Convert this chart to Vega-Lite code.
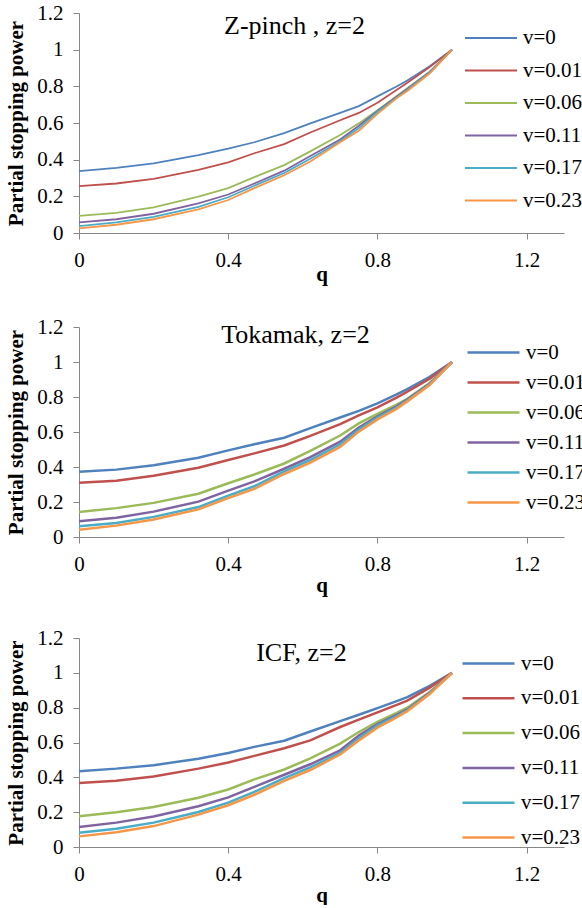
{
  "$schema": "https://vega.github.io/schema/vega-lite/v6.json",
  "padding": {"left": 5, "top": 2, "right": 0, "bottom": 0},
  "background": "white",
  "spacing": 32,
  "config": {
    "view": {"stroke": null},
    "font": "Liberation Serif",
    "axis": {
      "grid": false,
      "domainColor": "#868686",
      "tickColor": "#868686",
      "tickSize": 6,
      "labelFont": "Liberation Serif",
      "labelFontSize": 21,
      "labelColor": "black",
      "labelPadding": 10,
      "labelOverlap": false,
      "labelFlush": false,
      "titleFont": "Liberation Serif",
      "titleFontSize": 21,
      "titleFontWeight": "bold",
      "titleColor": "black"
    },
    "legend": {
      "labelFont": "Liberation Serif",
      "labelFontSize": 21,
      "labelColor": "black",
      "title": null
    },
    "title": {"font": "Liberation Serif", "fontSize": 26, "fontWeight": "normal", "color": "black", "anchor": "middle"}
  },
  "datasets": {
    "d": [
      {"panel":"Z","v":"v=0","q":0,"p":0.338},{"panel":"Z","v":"v=0","q":0.1,"p":0.355},{"panel":"Z","v":"v=0","q":0.2,"p":0.38},{"panel":"Z","v":"v=0","q":0.32,"p":0.425},{"panel":"Z","v":"v=0","q":0.4,"p":0.46},{"panel":"Z","v":"v=0","q":0.47,"p":0.495},{"panel":"Z","v":"v=0","q":0.55,"p":0.545},{"panel":"Z","v":"v=0","q":0.62,"p":0.598},{"panel":"Z","v":"v=0","q":0.7,"p":0.655},{"panel":"Z","v":"v=0","q":0.75,"p":0.692},{"panel":"Z","v":"v=0","q":0.8,"p":0.745},{"panel":"Z","v":"v=0","q":0.85,"p":0.798},{"panel":"Z","v":"v=0","q":0.88,"p":0.832},{"panel":"Z","v":"v=0","q":0.94,"p":0.91},{"panel":"Z","v":"v=0","q":1,"p":1},
      {"panel":"Z","v":"v=0.01","q":0,"p":0.256},{"panel":"Z","v":"v=0.01","q":0.1,"p":0.27},{"panel":"Z","v":"v=0.01","q":0.2,"p":0.295},{"panel":"Z","v":"v=0.01","q":0.32,"p":0.344},{"panel":"Z","v":"v=0.01","q":0.4,"p":0.385},{"panel":"Z","v":"v=0.01","q":0.47,"p":0.435},{"panel":"Z","v":"v=0.01","q":0.55,"p":0.485},{"panel":"Z","v":"v=0.01","q":0.62,"p":0.548},{"panel":"Z","v":"v=0.01","q":0.7,"p":0.615},{"panel":"Z","v":"v=0.01","q":0.75,"p":0.655},{"panel":"Z","v":"v=0.01","q":0.8,"p":0.71},{"panel":"Z","v":"v=0.01","q":0.85,"p":0.778},{"panel":"Z","v":"v=0.01","q":0.88,"p":0.82},{"panel":"Z","v":"v=0.01","q":0.94,"p":0.905},{"panel":"Z","v":"v=0.01","q":1,"p":1},
      {"panel":"Z","v":"v=0.06","q":0,"p":0.093},{"panel":"Z","v":"v=0.06","q":0.1,"p":0.11},{"panel":"Z","v":"v=0.06","q":0.2,"p":0.14},{"panel":"Z","v":"v=0.06","q":0.32,"p":0.198},{"panel":"Z","v":"v=0.06","q":0.4,"p":0.245},{"panel":"Z","v":"v=0.06","q":0.47,"p":0.305},{"panel":"Z","v":"v=0.06","q":0.55,"p":0.37},{"panel":"Z","v":"v=0.06","q":0.62,"p":0.445},{"panel":"Z","v":"v=0.06","q":0.7,"p":0.535},{"panel":"Z","v":"v=0.06","q":0.75,"p":0.598},{"panel":"Z","v":"v=0.06","q":0.8,"p":0.67},{"panel":"Z","v":"v=0.06","q":0.85,"p":0.745},{"panel":"Z","v":"v=0.06","q":0.88,"p":0.79},{"panel":"Z","v":"v=0.06","q":0.94,"p":0.88},{"panel":"Z","v":"v=0.06","q":1,"p":1},
      {"panel":"Z","v":"v=0.11","q":0,"p":0.058},{"panel":"Z","v":"v=0.11","q":0.1,"p":0.075},{"panel":"Z","v":"v=0.11","q":0.2,"p":0.105},{"panel":"Z","v":"v=0.11","q":0.32,"p":0.162},{"panel":"Z","v":"v=0.11","q":0.4,"p":0.21},{"panel":"Z","v":"v=0.11","q":0.47,"p":0.27},{"panel":"Z","v":"v=0.11","q":0.55,"p":0.34},{"panel":"Z","v":"v=0.11","q":0.62,"p":0.42},{"panel":"Z","v":"v=0.11","q":0.7,"p":0.51},{"panel":"Z","v":"v=0.11","q":0.75,"p":0.585},{"panel":"Z","v":"v=0.11","q":0.8,"p":0.665},{"panel":"Z","v":"v=0.11","q":0.85,"p":0.74},{"panel":"Z","v":"v=0.11","q":0.88,"p":0.785},{"panel":"Z","v":"v=0.11","q":0.94,"p":0.878},{"panel":"Z","v":"v=0.11","q":1,"p":1},
      {"panel":"Z","v":"v=0.17","q":0,"p":0.038},{"panel":"Z","v":"v=0.17","q":0.1,"p":0.058},{"panel":"Z","v":"v=0.17","q":0.2,"p":0.088},{"panel":"Z","v":"v=0.17","q":0.32,"p":0.143},{"panel":"Z","v":"v=0.17","q":0.4,"p":0.195},{"panel":"Z","v":"v=0.17","q":0.47,"p":0.258},{"panel":"Z","v":"v=0.17","q":0.55,"p":0.327},{"panel":"Z","v":"v=0.17","q":0.62,"p":0.405},{"panel":"Z","v":"v=0.17","q":0.7,"p":0.5},{"panel":"Z","v":"v=0.17","q":0.75,"p":0.572},{"panel":"Z","v":"v=0.17","q":0.8,"p":0.66},{"panel":"Z","v":"v=0.17","q":0.85,"p":0.735},{"panel":"Z","v":"v=0.17","q":0.88,"p":0.78},{"panel":"Z","v":"v=0.17","q":0.94,"p":0.875},{"panel":"Z","v":"v=0.17","q":1,"p":1},
      {"panel":"Z","v":"v=0.23","q":0,"p":0.025},{"panel":"Z","v":"v=0.23","q":0.1,"p":0.045},{"panel":"Z","v":"v=0.23","q":0.2,"p":0.075},{"panel":"Z","v":"v=0.23","q":0.32,"p":0.129},{"panel":"Z","v":"v=0.23","q":0.4,"p":0.18},{"panel":"Z","v":"v=0.23","q":0.47,"p":0.245},{"panel":"Z","v":"v=0.23","q":0.55,"p":0.315},{"panel":"Z","v":"v=0.23","q":0.62,"p":0.39},{"panel":"Z","v":"v=0.23","q":0.7,"p":0.495},{"panel":"Z","v":"v=0.23","q":0.75,"p":0.558},{"panel":"Z","v":"v=0.23","q":0.8,"p":0.65},{"panel":"Z","v":"v=0.23","q":0.85,"p":0.733},{"panel":"Z","v":"v=0.23","q":0.88,"p":0.775},{"panel":"Z","v":"v=0.23","q":0.94,"p":0.87},{"panel":"Z","v":"v=0.23","q":1,"p":1},
      {"panel":"T","v":"v=0","q":0,"p":0.373},{"panel":"T","v":"v=0","q":0.1,"p":0.385},{"panel":"T","v":"v=0","q":0.2,"p":0.41},{"panel":"T","v":"v=0","q":0.32,"p":0.453},{"panel":"T","v":"v=0","q":0.4,"p":0.495},{"panel":"T","v":"v=0","q":0.47,"p":0.53},{"panel":"T","v":"v=0","q":0.55,"p":0.567},{"panel":"T","v":"v=0","q":0.62,"p":0.622},{"panel":"T","v":"v=0","q":0.7,"p":0.683},{"panel":"T","v":"v=0","q":0.75,"p":0.721},{"panel":"T","v":"v=0","q":0.8,"p":0.763},{"panel":"T","v":"v=0","q":0.85,"p":0.813},{"panel":"T","v":"v=0","q":0.88,"p":0.845},{"panel":"T","v":"v=0","q":0.94,"p":0.915},{"panel":"T","v":"v=0","q":1,"p":1},
      {"panel":"T","v":"v=0.01","q":0,"p":0.31},{"panel":"T","v":"v=0.01","q":0.1,"p":0.322},{"panel":"T","v":"v=0.01","q":0.2,"p":0.35},{"panel":"T","v":"v=0.01","q":0.32,"p":0.396},{"panel":"T","v":"v=0.01","q":0.4,"p":0.44},{"panel":"T","v":"v=0.01","q":0.47,"p":0.478},{"panel":"T","v":"v=0.01","q":0.55,"p":0.523},{"panel":"T","v":"v=0.01","q":0.62,"p":0.578},{"panel":"T","v":"v=0.01","q":0.7,"p":0.645},{"panel":"T","v":"v=0.01","q":0.75,"p":0.695},{"panel":"T","v":"v=0.01","q":0.8,"p":0.741},{"panel":"T","v":"v=0.01","q":0.85,"p":0.795},{"panel":"T","v":"v=0.01","q":0.88,"p":0.83},{"panel":"T","v":"v=0.01","q":0.94,"p":0.905},{"panel":"T","v":"v=0.01","q":1,"p":1},
      {"panel":"T","v":"v=0.06","q":0,"p":0.143},{"panel":"T","v":"v=0.06","q":0.1,"p":0.165},{"panel":"T","v":"v=0.06","q":0.2,"p":0.195},{"panel":"T","v":"v=0.06","q":0.32,"p":0.247},{"panel":"T","v":"v=0.06","q":0.4,"p":0.307},{"panel":"T","v":"v=0.06","q":0.47,"p":0.357},{"panel":"T","v":"v=0.06","q":0.55,"p":0.42},{"panel":"T","v":"v=0.06","q":0.62,"p":0.492},{"panel":"T","v":"v=0.06","q":0.7,"p":0.58},{"panel":"T","v":"v=0.06","q":0.75,"p":0.649},{"panel":"T","v":"v=0.06","q":0.8,"p":0.703},{"panel":"T","v":"v=0.06","q":0.85,"p":0.755},{"panel":"T","v":"v=0.06","q":0.88,"p":0.79},{"panel":"T","v":"v=0.06","q":0.94,"p":0.88},{"panel":"T","v":"v=0.06","q":1,"p":1},
      {"panel":"T","v":"v=0.11","q":0,"p":0.09},{"panel":"T","v":"v=0.11","q":0.1,"p":0.11},{"panel":"T","v":"v=0.11","q":0.2,"p":0.145},{"panel":"T","v":"v=0.11","q":0.32,"p":0.202},{"panel":"T","v":"v=0.11","q":0.4,"p":0.265},{"panel":"T","v":"v=0.11","q":0.47,"p":0.318},{"panel":"T","v":"v=0.11","q":0.55,"p":0.39},{"panel":"T","v":"v=0.11","q":0.62,"p":0.457},{"panel":"T","v":"v=0.11","q":0.7,"p":0.545},{"panel":"T","v":"v=0.11","q":0.75,"p":0.626},{"panel":"T","v":"v=0.11","q":0.8,"p":0.69},{"panel":"T","v":"v=0.11","q":0.85,"p":0.745},{"panel":"T","v":"v=0.11","q":0.88,"p":0.785},{"panel":"T","v":"v=0.11","q":0.94,"p":0.875},{"panel":"T","v":"v=0.11","q":1,"p":1},
      {"panel":"T","v":"v=0.17","q":0,"p":0.061},{"panel":"T","v":"v=0.17","q":0.1,"p":0.08},{"panel":"T","v":"v=0.17","q":0.2,"p":0.115},{"panel":"T","v":"v=0.17","q":0.32,"p":0.171},{"panel":"T","v":"v=0.17","q":0.4,"p":0.236},{"panel":"T","v":"v=0.17","q":0.47,"p":0.29},{"panel":"T","v":"v=0.17","q":0.55,"p":0.375},{"panel":"T","v":"v=0.17","q":0.62,"p":0.44},{"panel":"T","v":"v=0.17","q":0.7,"p":0.53},{"panel":"T","v":"v=0.17","q":0.75,"p":0.614},{"panel":"T","v":"v=0.17","q":0.8,"p":0.683},{"panel":"T","v":"v=0.17","q":0.85,"p":0.738},{"panel":"T","v":"v=0.17","q":0.88,"p":0.78},{"panel":"T","v":"v=0.17","q":0.94,"p":0.872},{"panel":"T","v":"v=0.17","q":1,"p":1},
      {"panel":"T","v":"v=0.23","q":0,"p":0.042},{"panel":"T","v":"v=0.23","q":0.1,"p":0.065},{"panel":"T","v":"v=0.23","q":0.2,"p":0.1},{"panel":"T","v":"v=0.23","q":0.32,"p":0.158},{"panel":"T","v":"v=0.23","q":0.4,"p":0.222},{"panel":"T","v":"v=0.23","q":0.47,"p":0.275},{"panel":"T","v":"v=0.23","q":0.55,"p":0.36},{"panel":"T","v":"v=0.23","q":0.62,"p":0.425},{"panel":"T","v":"v=0.23","q":0.7,"p":0.515},{"panel":"T","v":"v=0.23","q":0.75,"p":0.602},{"panel":"T","v":"v=0.23","q":0.8,"p":0.672},{"panel":"T","v":"v=0.23","q":0.85,"p":0.731},{"panel":"T","v":"v=0.23","q":0.88,"p":0.775},{"panel":"T","v":"v=0.23","q":0.94,"p":0.868},{"panel":"T","v":"v=0.23","q":1,"p":1},
      {"panel":"I","v":"v=0","q":0,"p":0.435},{"panel":"I","v":"v=0","q":0.1,"p":0.45},{"panel":"I","v":"v=0","q":0.2,"p":0.47},{"panel":"I","v":"v=0","q":0.32,"p":0.507},{"panel":"I","v":"v=0","q":0.4,"p":0.54},{"panel":"I","v":"v=0","q":0.47,"p":0.575},{"panel":"I","v":"v=0","q":0.55,"p":0.61},{"panel":"I","v":"v=0","q":0.62,"p":0.663},{"panel":"I","v":"v=0","q":0.7,"p":0.723},{"panel":"I","v":"v=0","q":0.75,"p":0.759},{"panel":"I","v":"v=0","q":0.8,"p":0.797},{"panel":"I","v":"v=0","q":0.85,"p":0.836},{"panel":"I","v":"v=0","q":0.88,"p":0.86},{"panel":"I","v":"v=0","q":0.94,"p":0.925},{"panel":"I","v":"v=0","q":1,"p":1},
      {"panel":"I","v":"v=0.01","q":0,"p":0.367},{"panel":"I","v":"v=0.01","q":0.1,"p":0.38},{"panel":"I","v":"v=0.01","q":0.2,"p":0.405},{"panel":"I","v":"v=0.01","q":0.32,"p":0.45},{"panel":"I","v":"v=0.01","q":0.4,"p":0.485},{"panel":"I","v":"v=0.01","q":0.47,"p":0.523},{"panel":"I","v":"v=0.01","q":0.55,"p":0.567},{"panel":"I","v":"v=0.01","q":0.62,"p":0.612},{"panel":"I","v":"v=0.01","q":0.7,"p":0.689},{"panel":"I","v":"v=0.01","q":0.75,"p":0.731},{"panel":"I","v":"v=0.01","q":0.8,"p":0.773},{"panel":"I","v":"v=0.01","q":0.85,"p":0.815},{"panel":"I","v":"v=0.01","q":0.88,"p":0.84},{"panel":"I","v":"v=0.01","q":0.94,"p":0.915},{"panel":"I","v":"v=0.01","q":1,"p":1},
      {"panel":"I","v":"v=0.06","q":0,"p":0.176},{"panel":"I","v":"v=0.06","q":0.1,"p":0.2},{"panel":"I","v":"v=0.06","q":0.2,"p":0.23},{"panel":"I","v":"v=0.06","q":0.32,"p":0.283},{"panel":"I","v":"v=0.06","q":0.4,"p":0.33},{"panel":"I","v":"v=0.06","q":0.47,"p":0.388},{"panel":"I","v":"v=0.06","q":0.55,"p":0.445},{"panel":"I","v":"v=0.06","q":0.62,"p":0.509},{"panel":"I","v":"v=0.06","q":0.7,"p":0.594},{"panel":"I","v":"v=0.06","q":0.75,"p":0.66},{"panel":"I","v":"v=0.06","q":0.8,"p":0.719},{"panel":"I","v":"v=0.06","q":0.85,"p":0.768},{"panel":"I","v":"v=0.06","q":0.88,"p":0.8},{"panel":"I","v":"v=0.06","q":0.94,"p":0.89},{"panel":"I","v":"v=0.06","q":1,"p":1},
      {"panel":"I","v":"v=0.11","q":0,"p":0.115},{"panel":"I","v":"v=0.11","q":0.1,"p":0.14},{"panel":"I","v":"v=0.11","q":0.2,"p":0.175},{"panel":"I","v":"v=0.11","q":0.32,"p":0.234},{"panel":"I","v":"v=0.11","q":0.4,"p":0.285},{"panel":"I","v":"v=0.11","q":0.47,"p":0.345},{"panel":"I","v":"v=0.11","q":0.55,"p":0.415},{"panel":"I","v":"v=0.11","q":0.62,"p":0.475},{"panel":"I","v":"v=0.11","q":0.7,"p":0.555},{"panel":"I","v":"v=0.11","q":0.75,"p":0.64},{"panel":"I","v":"v=0.11","q":0.8,"p":0.705},{"panel":"I","v":"v=0.11","q":0.85,"p":0.757},{"panel":"I","v":"v=0.11","q":0.88,"p":0.79},{"panel":"I","v":"v=0.11","q":0.94,"p":0.885},{"panel":"I","v":"v=0.11","q":1,"p":1},
      {"panel":"I","v":"v=0.17","q":0,"p":0.082},{"panel":"I","v":"v=0.17","q":0.1,"p":0.105},{"panel":"I","v":"v=0.17","q":0.2,"p":0.14},{"panel":"I","v":"v=0.17","q":0.32,"p":0.201},{"panel":"I","v":"v=0.17","q":0.4,"p":0.255},{"panel":"I","v":"v=0.17","q":0.47,"p":0.316},{"panel":"I","v":"v=0.17","q":0.55,"p":0.395},{"panel":"I","v":"v=0.17","q":0.62,"p":0.457},{"panel":"I","v":"v=0.17","q":0.7,"p":0.54},{"panel":"I","v":"v=0.17","q":0.75,"p":0.625},{"panel":"I","v":"v=0.17","q":0.8,"p":0.698},{"panel":"I","v":"v=0.17","q":0.85,"p":0.75},{"panel":"I","v":"v=0.17","q":0.88,"p":0.785},{"panel":"I","v":"v=0.17","q":0.94,"p":0.882},{"panel":"I","v":"v=0.17","q":1,"p":1},
      {"panel":"I","v":"v=0.23","q":0,"p":0.061},{"panel":"I","v":"v=0.23","q":0.1,"p":0.085},{"panel":"I","v":"v=0.23","q":0.2,"p":0.12},{"panel":"I","v":"v=0.23","q":0.32,"p":0.186},{"panel":"I","v":"v=0.23","q":0.4,"p":0.24},{"panel":"I","v":"v=0.23","q":0.47,"p":0.3},{"panel":"I","v":"v=0.23","q":0.55,"p":0.38},{"panel":"I","v":"v=0.23","q":0.62,"p":0.442},{"panel":"I","v":"v=0.23","q":0.7,"p":0.531},{"panel":"I","v":"v=0.23","q":0.75,"p":0.612},{"panel":"I","v":"v=0.23","q":0.8,"p":0.685},{"panel":"I","v":"v=0.23","q":0.85,"p":0.742},{"panel":"I","v":"v=0.23","q":0.88,"p":0.78},{"panel":"I","v":"v=0.23","q":0.94,"p":0.878},{"panel":"I","v":"v=0.23","q":1,"p":1}
    ]
  },
  "resolve": {"legend": {"color": "independent"}, "scale": {"color": "independent"}},
  "vconcat": [
    {
      "data": {"name": "d"},
      "transform": [{"filter": "datum.panel == 'Z'"}],
      "title": {"text": "Z-pinch , z=2", "offset": -37, "dx": -27},
      "width": 485,
      "height": 220,
      "mark": {"type": "line", "strokeWidth": 1.8},
      "encoding": {
        "x": {"field": "q", "type": "quantitative", "scale": {"domain": [0, 1.3], "nice": false}, "axis": {"values": [0, 0.4, 0.8, 1.2], "labelExpr": "datum.value == 0 ? '0' : format(datum.value, '.1f')", "title": "q", "titlePadding": -7}},
        "y": {"field": "p", "type": "quantitative", "scale": {"domain": [0, 1.2], "nice": false}, "axis": {"values": [0, 0.2, 0.4, 0.6, 0.8, 1, 1.2], "labelExpr": "datum.value == 0 ? '0' : datum.value == 1 ? '1' : format(datum.value, '.1f')", "title": "Partial stopping power", "titlePadding": 10}},
        "color": {"field": "v", "type": "nominal",
          "scale": {"domain": ["v=0","v=0.01","v=0.06","v=0.11","v=0.17","v=0.23"], "range": ["#4F81BD","#C0504D","#9BBB59","#8064A2","#4BACC6","#F79646"]},
          "legend": {"orient": "none", "legendX": 385, "legendY": 11, "symbolType": "M-1,0H3", "symbolSize": 676, "labelOffset": 31, "symbolStrokeWidth": 1.8, "rowPadding": 8.5}}
      }
    },
    {
      "data": {"name": "d"},
      "transform": [{"filter": "datum.panel == 'T'"}],
      "title": {"text": "Tokamak, z=2", "offset": -32, "dx": -26},
      "width": 485,
      "height": 210,
      "mark": {"type": "line", "strokeWidth": 2.5},
      "encoding": {
        "x": {"field": "q", "type": "quantitative", "scale": {"domain": [0, 1.3], "nice": false}, "axis": {"values": [0, 0.4, 0.8, 1.2], "labelExpr": "datum.value == 0 ? '0' : format(datum.value, '.1f')", "title": "q", "titlePadding": 0}},
        "y": {"field": "p", "type": "quantitative", "scale": {"domain": [0, 1.2], "nice": false}, "axis": {"values": [0, 0.2, 0.4, 0.6, 0.8, 1, 1.2], "labelExpr": "datum.value == 0 ? '0' : datum.value == 1 ? '1' : format(datum.value, '.1f')", "title": "Partial stopping power", "titlePadding": 10}},
        "color": {"field": "v", "type": "nominal",
          "scale": {"domain": ["v=0","v=0.01","v=0.06","v=0.11","v=0.17","v=0.23"], "range": ["#4F81BD","#C0504D","#9BBB59","#8064A2","#4BACC6","#F79646"]},
          "legend": {"orient": "none", "legendX": 387, "legendY": 11, "symbolType": "M-1,0H3", "symbolSize": 676, "labelOffset": 31, "symbolStrokeWidth": 2.5, "rowPadding": 5}}
      }
    },
    {
      "data": {"name": "d"},
      "transform": [{"filter": "datum.panel == 'I'"}],
      "title": {"text": "ICF, z=2", "offset": -39, "dx": -20},
      "width": 485,
      "height": 209,
      "mark": {"type": "line", "strokeWidth": 2.5},
      "encoding": {
        "x": {"field": "q", "type": "quantitative", "scale": {"domain": [0, 1.3], "nice": false}, "axis": {"values": [0, 0.4, 0.8, 1.2], "labelExpr": "datum.value == 0 ? '0' : format(datum.value, '.1f')", "title": "q", "titlePadding": 0}},
        "y": {"field": "p", "type": "quantitative", "scale": {"domain": [0, 1.2], "nice": false}, "axis": {"values": [0, 0.2, 0.4, 0.6, 0.8, 1, 1.2], "labelExpr": "datum.value == 0 ? '0' : datum.value == 1 ? '1' : format(datum.value, '.1f')", "title": "Partial stopping power", "titlePadding": 10}},
        "color": {"field": "v", "type": "nominal",
          "scale": {"domain": ["v=0","v=0.01","v=0.06","v=0.11","v=0.17","v=0.23"], "range": ["#4F81BD","#C0504D","#9BBB59","#8064A2","#4BACC6","#F79646"]},
          "legend": {"orient": "none", "legendX": 382, "legendY": 11, "symbolType": "M-1,0H3", "symbolSize": 676, "labelOffset": 31, "symbolStrokeWidth": 2.5, "rowPadding": 9.8}}
      }
    }
  ]
}
